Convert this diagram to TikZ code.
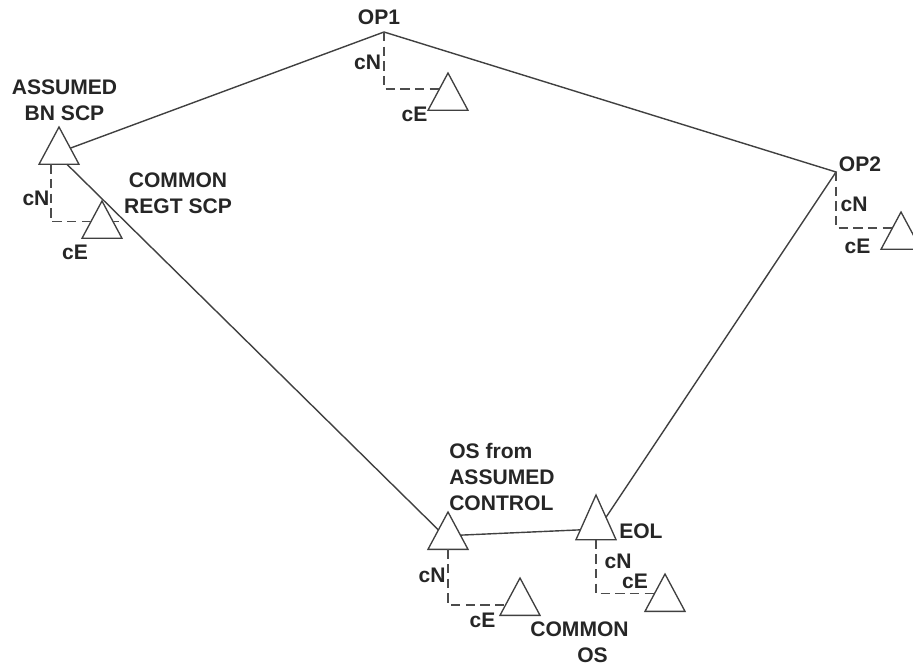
\documentclass[tikz,border=0pt]{standalone}
\usepackage{fontspec}
\setmainfont{Liberation Sans}
\usepackage{xcolor}
\usetikzlibrary{shapes.geometric,calc}

\begin{document}
\begin{tikzpicture}[
    x=0.75pt, y=-0.75pt,
    tri/.style={draw=black!75, line width=1pt, isosceles triangle, isosceles triangle stretches,
        shape border rotate=90, minimum width=30pt, minimum height=28pt, inner sep=0pt, outer sep=0pt, anchor=apex},
    tall/.style={minimum height=33.5pt},
    survey/.style={draw=black!75, line width=1.05pt},
    offset/.style={draw=black!70, line width=1pt, dash pattern=on 7pt off 4pt},
    lbl/.style={font=\fontsize{15.8}{19.5}\selectfont\bfseries, text=black!85, inner sep=0pt, align=center}]

    \useasboundingbox (0,0) rectangle (913,666);

    % survey points
    \coordinate (op1) at (384,32);
    \coordinate (op2) at (836,172);
    \node[tri] (bn) at (59,127) {};
    \node[tri, tall] (eol) at (596,495) {};
    \node[tri] (os) at (448,512) {};

    % offset points
    \node[tri] (regt) at (102,201) {};
    \node[tri] (opa) at (448,73) {};
    \node[tri] (opb) at (901,212) {};
    \node[tri] (cmnos) at (520,578) {};
    \node[tri] (eolc) at (665,574) {};

    % traverse
    \draw[survey] (bn) -- (op1) -- (op2) -- (eol.right side);
    \draw[survey] ($(bn.left corner)!.7!(bn.right corner)$) -- ($(os.apex)!.48!(os.left corner)$);
    \draw[survey] ($(os.apex)!.62!(os.right corner)$) -- ($(eol.apex)!.78!(eol.left corner)$);

    % offsets
    \draw[offset] ([xshift=-6pt]bn.lower side) |- ($(regt.apex)!.55!(regt.left corner)$);
    \draw[offset] ($(regt.apex)!.55!(regt.right corner)$) -- ++(6,0);
    \draw[offset] (op1) |- ($(opa.apex)!.43!(opa.left corner)$);
    \draw[offset] (op2) |- ($(opb.apex)!.43!(opb.left corner)$);
    \draw[offset] (os.lower side) |- ($(cmnos.apex)!.72!(cmnos.left corner)$);
    \draw[offset] (eol.lower side) |- ($(eolc.apex)!.53!(eolc.left corner)$);

    % labels
    \node[lbl] (op1lbl) at (379,17) {OP1};
    \node[lbl] (op2lbl) at (860,164.5) {OP2};
    \node[lbl] (bnlbl) at (64.5,100) {ASSUMED\\BN SCP};
    \node[lbl] (regtlbl) at (178,193) {COMMON\\REGT SCP};
    \node[lbl, align=left, anchor=west] (oslbl) at (449,477) {OS from\\ASSUMED\\CONTROL};
    \node[lbl, anchor=west] (eollbl) at (619,531) {EOL};
    \node[lbl] (cmnlbl) at (579.5,642) {COMMON\\\hspace*{19.5pt}OS};

    \node[lbl] (cn1) at (367.5,62.5) {cN};
    \node[lbl] (ce1) at (414.5,114) {cE};
    \node[lbl] (cn2) at (854,204) {cN};
    \node[lbl] (ce2) at (857.5,246) {cE};
    \node[lbl] (cn3) at (36,198) {cN};
    \node[lbl] (ce3) at (75,252) {cE};
    \node[lbl] (cn4) at (432,575) {cN};
    \node[lbl] (ce4) at (482.5,620) {cE};
    \node[lbl] (cn5) at (618,561) {cN};
    \node[lbl] (ce5) at (635,581) {cE};
\end{tikzpicture}
\end{document}
